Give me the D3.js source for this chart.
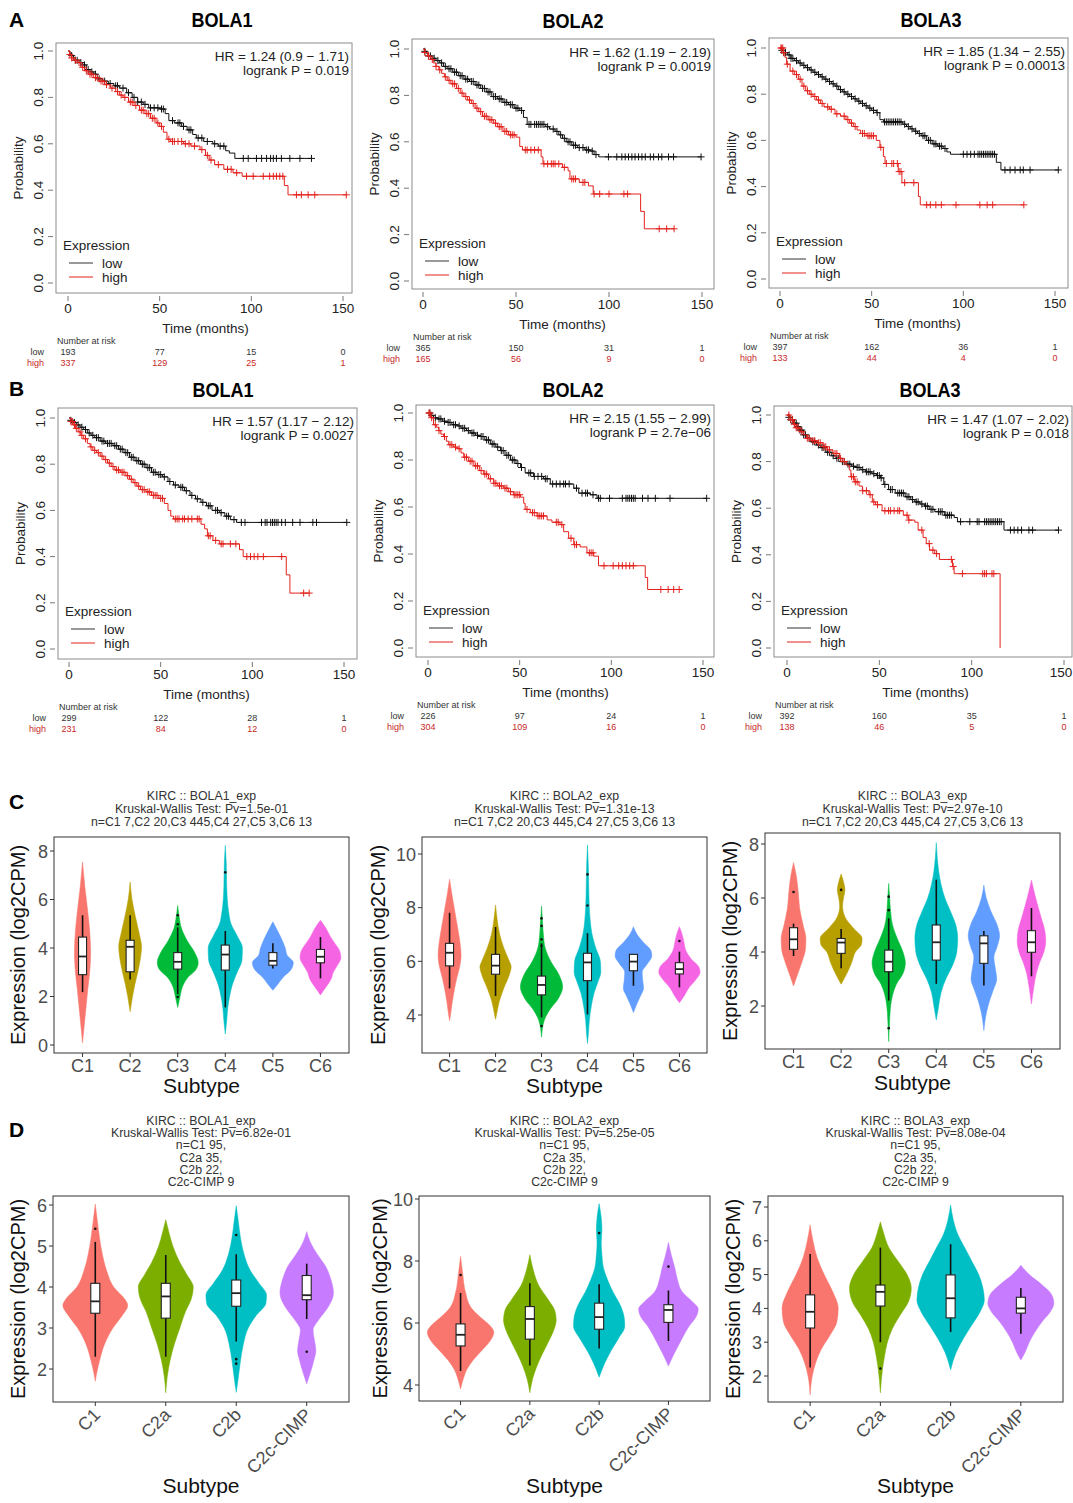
<!DOCTYPE html>
<html>
<head>
<meta charset="utf-8">
<script src="https://cdn.jsdelivr.net/npm/d3@7"></script>
<style>
  body { margin: 0; background: #fff; }
  text { font-family: "Liberation Sans", Arial, sans-serif; }
</style>
</head>
<body>
<svg id="fig" width="1073" height="1503"></svg>
<script>
// ---------- Kaplan-Meier data: [time, survival] steps, censor times ----------
const kmTimeTicks = [0, 50, 100, 150];
const kmProbTicks = [0, 0.2, 0.4, 0.6, 0.8, 1.0];
const riskTimes = [0, 50, 100, 150];

const kmA1Low = [[0,1],[1,0.99],[2,0.98],[3,0.97],[4,0.96],[6,0.95],[8,0.94],[10,0.92],[12,0.91],[14,0.9],[16,0.88],[19,0.87],[22,0.86],[25,0.85],[28,0.84],[32,0.82],[35,0.8],[38,0.78],[41,0.77],[44,0.755],[50,0.75],[53,0.73],[55,0.7],[58,0.69],[62,0.675],[65,0.66],[68,0.64],[70,0.625],[74,0.61],[79,0.6],[82,0.59],[86,0.57],[88,0.56],[91,0.537]];
const kmA1LowCens = [2,4,5,7,9,11,13,15,17,20,23,26,27,30,33,36,38,40,42,45,47,49,51,52,57,60,61,63,66,67,71,73,76,80,83,85,95.6,98.3,102.8,105.6,108.3,110.5,112,113.7,116.4,121,126.5,132.8];
const kmA1High = [[0,1],[1,0.985],[2,0.97],[3,0.96],[5,0.95],[7,0.93],[9,0.915],[11,0.9],[14,0.885],[17,0.87],[20,0.855],[23,0.84],[26,0.825],[28,0.81],[30,0.8],[33,0.78],[36,0.765],[39,0.745],[42,0.73],[45,0.71],[48,0.69],[50,0.675],[52,0.65],[54,0.62],[56,0.61],[63,0.6],[67,0.59],[72,0.575],[75,0.55],[77,0.53],[80,0.51],[85,0.49],[90,0.475],[95,0.46],[118,0.42],[120,0.38]];
const kmA1HighCens = [1,2,4,6,8,10,12,13,15,16,18,19,21,24,27,29,31,34,35,37,40,41,43,44,46,47,49,51,55,57,58,60,62,64,66,69,73,76,78,82,87,89,92,97.4,101,106.5,110,112,113.7,115.5,117.2,124.6,127.3,131,134.6,151.8];

const kmA2Low = [[0,1],[1,0.99],[2,0.98],[3,0.97],[5,0.96],[7,0.95],[9,0.94],[11,0.925],[13,0.915],[16,0.9],[19,0.885],[22,0.87],[25,0.86],[28,0.845],[31,0.83],[34,0.815],[37,0.795],[40,0.785],[43,0.77],[46,0.76],[49,0.745],[52,0.735],[54,0.705],[56,0.675],[66,0.665],[68,0.655],[71,0.645],[73,0.63],[75,0.615],[77,0.6],[80,0.585],[83,0.575],[87,0.565],[90,0.56],[92,0.545],[94.5,0.535]];
const kmA2LowCens = [1,3,4,6,8,10,12,14,15,17,18,20,21,23,24,26,27,29,30,32,33,35,36,38,39,41,42,44,45,47,48,50,51,53,57,58,60,61,62,63,64,65,67,70,72,74,76,78,79,81,82,84,86,88,89,91,93,99.7,104.2,106.9,108.7,110.5,112.3,114,115.9,117.7,119.5,122.2,124,126.6,128.4,132,134.7,149.5];
const kmA2High = [[0,1],[1,0.985],[2.5,0.97],[4,0.955],[5.5,0.94],[7,0.925],[8.5,0.91],[10,0.895],[11.5,0.88],[13,0.865],[15,0.85],[18,0.83],[20,0.81],[22,0.795],[24,0.78],[26,0.765],[28,0.745],[30,0.73],[32,0.71],[35,0.695],[38,0.68],[40,0.665],[43,0.645],[46,0.63],[50,0.62],[52,0.58],[53.5,0.565],[63.5,0.535],[64.5,0.505],[75,0.49],[78,0.475],[79,0.44],[84,0.425],[89,0.41],[91.5,0.375],[117,0.3],[119,0.225]];
const kmA2HighCens = [1,3,5,7,9,12,14,16,17,19,21,23,25,27,29,31,33,34,36,37,39,41,42,44,45,47,48,49,55,56,58,60,62,65,67,69,70,71,73,76,80,81,82,86,87,92,95,100,108,110,127,131,135];

const kmA3Low = [[0,1],[1,0.99],[2,0.98],[4,0.97],[6,0.955],[8,0.945],[10,0.935],[12,0.925],[14,0.915],[16,0.905],[18,0.895],[20,0.885],[22,0.875],[24,0.865],[26,0.855],[28,0.845],[30,0.835],[32,0.82],[34,0.81],[36,0.8],[38,0.79],[40,0.78],[42,0.77],[44,0.76],[46,0.75],[48,0.74],[50,0.73],[52.5,0.72],[54.5,0.69],[56.5,0.68],[67,0.67],[69,0.66],[71,0.65],[73,0.64],[75,0.63],[77,0.62],[80,0.6],[83,0.585],[86,0.575],[89,0.565],[91,0.55],[93,0.54],[118,0.505],[120.5,0.472]];
const kmA3LowCens = [1,2,3,5,6,7,9,11,13,15,17,19,21,23,25,27,29,31,33,35,37,39,41,43,45,47,49,51,53,57,58,59,60,61,62,63,64,65,66,68,70,72,74,76,78,79,81,82,84,85,87,88,90,100,102,104,106,108,109,110,111,112,113,114,115,116,117,122.7,125.5,128.2,131,132.7,136.4,151.8];
const kmA3High = [[0,1],[1.8,0.98],[2.7,0.96],[3.6,0.93],[5.5,0.9],[8,0.885],[10,0.865],[12,0.835],[14,0.815],[16,0.8],[18,0.79],[20,0.775],[22,0.76],[24,0.745],[27,0.735],[30,0.715],[33,0.705],[36,0.69],[38,0.675],[40,0.66],[42,0.645],[44,0.63],[47,0.62],[52.5,0.6],[54.5,0.57],[56.4,0.53],[57.3,0.5],[64.5,0.465],[66.5,0.417],[75.5,0.357],[76.5,0.321]];
const kmA3HighCens = [0.5,1,1.5,2,4,7,9,11,13,15,17,19,21,23,26,28,31,35,37,39,41,45,46,48,49,50,51,55,58,61,62,64,65,66,68,73,80,82,85,88,96,109,113,116,133];

const kmB1Low = [[0,1],[1,0.99],[2.2,0.98],[4,0.97],[6,0.96],[8,0.95],[10,0.935],[12,0.925],[14,0.915],[17,0.9],[20,0.89],[24,0.88],[27,0.865],[30,0.85],[33,0.83],[36,0.815],[39,0.8],[42,0.785],[45,0.765],[48,0.755],[51,0.745],[54,0.725],[57,0.71],[60,0.7],[63,0.685],[66,0.665],[69,0.65],[72,0.635],[75,0.62],[78,0.6],[82,0.59],[85,0.575],[88,0.56],[91.4,0.548]];
const kmB1LowCens = [1,3,5,7,9,11,13,15,16,18,19,21,22,23,25,26,28,29,31,32,34,35,37,38,40,41,43,44,46,47,49,50,52,55,58,61,62,64,67,70,73,76,77,80,81,83,86,87,90,94,96,105,107,108,110,111,112,113,114,116,118,122,126,133,135,151.5];
const kmB1High = [[0,1],[1,0.985],[2.2,0.97],[3.5,0.955],[5,0.94],[6.5,0.925],[8,0.91],[10,0.89],[11.5,0.875],[13,0.86],[15,0.85],[17,0.835],[19,0.82],[21,0.805],[23,0.79],[25,0.775],[28,0.765],[31,0.75],[33,0.735],[35,0.72],[37,0.705],[39,0.69],[42,0.68],[45,0.665],[49,0.652],[52,0.63],[54,0.6],[55.5,0.575],[57,0.563],[72,0.54],[74,0.52],[75.5,0.49],[78.5,0.47],[82,0.455],[93,0.43],[95,0.4],[118.5,0.321],[120.5,0.242]];
const kmB1HighCens = [1,2,3,4,6,7,9,12,14,16,18,20,22,24,26,27,29,30,32,34,36,38,40,41,43,44,46,47,48,50,51,58,59,60,62,63,65,67,70,71,76,77,80,83,84,88,91,97,99,101,103,106,116,128,131];

const kmB2Low = [[0,1],[1.5,0.99],[3,0.98],[5,0.975],[8,0.965],[10.5,0.96],[13,0.95],[16,0.945],[18,0.935],[21,0.925],[23,0.915],[26,0.905],[28.5,0.9],[31,0.885],[34,0.868],[37,0.855],[39.5,0.84],[42,0.82],[45,0.8],[48,0.785],[50.5,0.768],[53,0.745],[57.5,0.73],[63,0.72],[66.7,0.698],[79.5,0.68],[82.2,0.659],[88.5,0.652],[92.2,0.637]];
const kmB2LowCens = [1,2,4,6,7,9,11,12,14,15,17,19,20,22,24,25,27,29,30,32,33,35,36,38,40,41,43,44,46,47,49,51,55,56,58,60,62,64,65,68,70,72,74,75,77,81,84,86,87,90,93,94,99,106,108,109,110,111,112,113,117,120,124,132,152];
const kmB2High = [[0,1],[1.3,0.98],[3,0.95],[4.5,0.94],[5.8,0.925],[7,0.91],[8.5,0.9],[10,0.88],[11.3,0.865],[14,0.855],[16,0.848],[18,0.83],[19.5,0.812],[22,0.795],[25,0.775],[28,0.755],[30.4,0.74],[33,0.72],[35.8,0.701],[38,0.69],[41.3,0.68],[44,0.665],[46.7,0.652],[50.4,0.642],[52.2,0.616],[53,0.59],[55.8,0.576],[59.5,0.562],[65,0.545],[67.6,0.535],[72,0.525],[74,0.495],[76.7,0.467],[79.5,0.44],[83,0.43],[86.7,0.405],[90.4,0.391],[93,0.35],[118.5,0.3],[119.8,0.249]];
const kmB2HighCens = [0.5,1,2,4,6,9,12,13,15,17,20,21,23,24,26,27,29,31,32,34,36,37,39,40,42,43,45,47,48,49,50,54,57,58,60,61,62,63,70,71,73,78,80,81,88,89,90,96,101,104,106,108,110,112,127,131,134,137];

const kmB3Low = [[0,1],[1,0.99],[2,0.98],[3.5,0.965],[5.3,0.95],[7,0.935],[9,0.915],[10.7,0.9],[13,0.885],[16,0.871],[18,0.86],[21,0.84],[24,0.825],[26.6,0.814],[29,0.8],[32,0.789],[35,0.78],[37.3,0.775],[40,0.765],[42.6,0.756],[46,0.748],[48.5,0.74],[50.6,0.73],[52.4,0.702],[55,0.68],[58.6,0.665],[64,0.649],[67,0.637],[69.2,0.627],[72,0.618],[74.6,0.609],[77,0.595],[80,0.585],[85.2,0.57],[90.5,0.56],[92.3,0.542],[117.5,0.506]];
const kmB3LowCens = [1,2,3,4,5,6,7,8,9,10,12,14,15,17,19,20,22,23,25,27,28,30,31,33,34,36,38,39,41,43,44,45,47,49,50,51,53,56,57,60,61,62,63,65,66,68,70,71,73,75,76,78,79,82,83,84,86,87,88,89,94,99,103,104,107,108,109,110,111,112,113,114,115,116,121,123,125,127,131,133,147];
const kmB3High = [[0,1],[1.8,0.98],[3.6,0.96],[5,0.945],[7,0.928],[9,0.915],[10.7,0.9],[13,0.89],[16,0.881],[19.5,0.864],[22,0.85],[24.9,0.835],[28.4,0.814],[30,0.8],[32,0.785],[33.7,0.764],[34.6,0.735],[36.4,0.713],[39,0.695],[40.8,0.675],[44.4,0.658],[46.2,0.627],[48,0.615],[51.5,0.589],[63,0.57],[65.7,0.549],[69.2,0.54],[71,0.506],[73.7,0.474],[75.4,0.448],[77.2,0.42],[80,0.405],[82.5,0.38],[89.6,0.35],[90.5,0.319],[115.4,0]];
const kmB3HighCens = [1,2,3,4,5,6,8,11,12,14,15,17,18,20,21,23,26,27,29,31,35,36,37,38,41,43,45,47,49,53,55,56,58,60,61,65,66,73,77,79,81,89,90,95,106,107,108,111,112];

const riskA1Low = [193, 77, 15, 0],  riskA1High = [337, 129, 25, 1];
const riskA2Low = [365, 150, 31, 1], riskA2High = [165, 56, 9, 0];
const riskA3Low = [397, 162, 36, 1], riskA3High = [133, 44, 4, 0];
const riskB1Low = [299, 122, 28, 1], riskB1High = [231, 84, 12, 0];
const riskB2Low = [226, 97, 24, 1],  riskB2High = [304, 109, 16, 0];
const riskB3Low = [392, 160, 35, 1], riskB3High = [138, 46, 5, 0];

const hrA1 = ["HR = 1.24 (0.9 \u2212 1.71)", "logrank P = 0.019"];
const hrA2 = ["HR = 1.62 (1.19 \u2212 2.19)", "logrank P = 0.0019"];
const hrA3 = ["HR = 1.85 (1.34 \u2212 2.55)", "logrank P = 0.00013"];
const hrB1 = ["HR = 1.57 (1.17 \u2212 2.12)", "logrank P = 0.0027"];
const hrB2 = ["HR = 2.15 (1.55 \u2212 2.99)", "logrank P = 2.7e\u221206"];
const hrB3 = ["HR = 1.47 (1.07 \u2212 2.02)", "logrank P = 0.018"];

// ---------- violin data: profile [value, half width (share of step)], box [lo,q1,med,q3,hi] ----------
const subtypesC = ["C1", "C2", "C3", "C4", "C5", "C6"];
const subtypesD = ["C1", "C2a", "C2b", "C2c-CIMP"];
const colorsC = ["#F8766D", "#B79F00", "#00BA38", "#00BFC4", "#619CFF", "#F564E3"];
const colorsD = ["#F8766D", "#7CAE00", "#00BFC4", "#C77CFF"];

const violinsC1 = [
  [[0.08,0],[0.7,0.03],[1.5,0.07],[2.3,0.11],[3.0,0.15],[3.8,0.17],[4.7,0.15],[5.5,0.11],[6.5,0.05],[7.55,0]],
  [[1.37,0],[2.0,0.05],[2.5,0.10],[3.0,0.16],[3.5,0.21],[4.05,0.24],[4.6,0.19],[5.3,0.11],[6.0,0.04],[6.72,0]],
  [[1.55,0],[2.0,0.05],[2.4,0.1],[2.8,0.22],[3.1,0.38],[3.4,0.43],[3.8,0.36],[4.3,0.2],[4.8,0.08],[5.3,0.03],[5.75,0]],
  [[0.45,0],[1.0,0.03],[1.5,0.05],[2.0,0.09],[2.5,0.15],[3.0,0.25],[3.5,0.35],[4.0,0.36],[4.5,0.25],[5.0,0.12],[5.5,0.07],[6.5,0.03],[7.5,0.02],[8.23,0]],
  [[2.26,0],[2.5,0.1],[2.8,0.22],[3.1,0.38],[3.4,0.43],[3.7,0.3],[4.0,0.26],[4.3,0.2],[4.7,0.1],[5.08,0]],
  [[2.06,0],[2.4,0.12],[2.7,0.22],[3.0,0.27],[3.3,0.36],[3.6,0.43],[3.9,0.4],[4.2,0.3],[4.5,0.2],[4.8,0.12],[5.14,0]]
];
const boxC1 = [[2.18,2.9,3.65,4.45,5.35],[2.7,3.02,4.05,4.32,5.35],[2.1,3.13,3.43,3.81,4.85],[1.55,3.09,3.73,4.12,4.7],[3.15,3.29,3.47,3.81,4.2],[2.75,3.39,3.64,3.94,4.45]];
const outC1 = [[],[],[5.35,4.98,1.98],[7.12],[],[]];

const violinsC2 = [
  [[3.79,0],[4.0,0.02],[4.5,0.06],[5.0,0.11],[5.4,0.16],[5.8,0.22],[6.2,0.25],[6.5,0.24],[7.0,0.2],[7.5,0.15],[8.0,0.1],[8.5,0.05],[9.06,0]],
  [[3.84,0],[4.0,0.02],[4.5,0.08],[5.0,0.18],[5.5,0.3],[5.8,0.34],[6.0,0.3],[6.5,0.18],[7.0,0.09],[7.5,0.04],[8.1,0]],
  [[3.17,0],[3.8,0.06],[4.2,0.18],[4.6,0.36],[5.05,0.46],[5.5,0.38],[6.0,0.2],[6.5,0.08],[7.0,0.04],[7.5,0.02],[8.06,0]],
  [[2.94,0],[3.3,0.02],[3.8,0.04],[4.3,0.08],[4.8,0.14],[5.2,0.22],[5.6,0.29],[6.0,0.28],[6.5,0.18],[7.0,0.1],[7.5,0.06],[8.5,0.03],[9.5,0.02],[10.34,0]],
  [[4.09,0],[4.4,0.07],[4.7,0.15],[5.0,0.22],[5.3,0.2],[5.6,0.19],[5.9,0.3],[6.2,0.4],[6.4,0.38],[6.7,0.22],[7.0,0.08],[7.29,0]],
  [[4.46,0],[4.7,0.1],[5.0,0.2],[5.3,0.35],[5.6,0.45],[5.8,0.42],[6.1,0.25],[6.4,0.14],[6.7,0.1],[7.0,0.06],[7.29,0]]
];
const boxC2 = [[4.99,5.83,6.32,6.67,7.81],[4.71,5.52,5.84,6.26,7.28],[3.91,4.75,5.12,5.45,6.67],[4.02,5.28,5.96,6.3,7.05],[5.09,5.65,5.99,6.26,6.26],[5.03,5.53,5.71,5.95,6.36]];
const outC2 = [[],[],[7.6,7.32,6.82,6.58,3.59],[9.24,8.08],[],[6.76]];

const violinsC3 = [
  [[2.74,0],[3.0,0.05],[3.3,0.11],[3.7,0.19],[4.1,0.25],[4.5,0.26],[5.0,0.2],[5.6,0.13],[6.2,0.1],[6.8,0.06],[7.31,0]],
  [[2.81,0],[3.2,0.12],[3.6,0.22],[4.0,0.3],[4.3,0.43],[4.5,0.44],[4.9,0.25],[5.3,0.08],[5.7,0.03],[6.0,0.05],[6.3,0.08],[6.6,0.05],[6.89,0]],
  [[0.68,0],[1.5,0.02],[2.0,0.04],[2.4,0.08],[2.8,0.16],[3.2,0.3],[3.6,0.35],[4.0,0.3],[4.5,0.18],[5.0,0.08],[5.5,0.04],[6.0,0.02],[6.54,0]],
  [[1.48,0],[2.0,0.05],[2.5,0.1],[3.0,0.2],[3.5,0.34],[4.0,0.43],[4.5,0.45],[5.0,0.41],[5.5,0.3],[6.0,0.18],[6.5,0.1],[7.0,0.05],[7.5,0.02],[8.05,0]],
  [[1.09,0],[1.4,0.02],[1.8,0.06],[2.2,0.12],[2.6,0.2],[3.0,0.27],[3.4,0.24],[3.8,0.21],[4.2,0.28],[4.6,0.33],[5.0,0.28],[5.5,0.15],[6.0,0.05],[6.48,0]],
  [[2.07,0],[2.7,0.05],[3.2,0.1],[3.6,0.17],[4.0,0.26],[4.4,0.3],[4.8,0.28],[5.3,0.2],[5.8,0.12],[6.2,0.06],[6.67,0]]
];
const boxC3 = [[3.85,4.1,4.47,4.9,5.05],[3.4,3.95,4.35,4.5,4.85],[2.2,3.27,3.64,4.07,5.25],[2.82,3.7,4.36,5.0,6.68],[2.76,3.58,4.32,4.6,4.78],[3.1,3.99,4.36,4.79,5.63]];
const outC3 = [[6.22],[6.3],[6.05,5.55,1.18],[],[],[]];

const violinsD1 = [
  [[1.7,0],[1.9,0.02],[2.2,0.06],[2.6,0.13],[3.0,0.25],[3.3,0.38],[3.55,0.46],[3.7,0.42],[4.0,0.26],[4.4,0.16],[4.8,0.1],[5.2,0.06],[5.6,0.03],[6.02,0]],
  [[1.42,0],[1.8,0.02],[2.2,0.06],[2.6,0.12],[3.0,0.2],[3.4,0.28],[3.7,0.36],[4.0,0.39],[4.3,0.3],[4.6,0.2],[5.0,0.1],[5.3,0.05],[5.64,0]],
  [[1.43,0],[1.8,0.03],[2.2,0.06],[2.6,0.1],[3.0,0.17],[3.3,0.28],[3.6,0.42],[3.8,0.43],[4.1,0.32],[4.4,0.2],[4.8,0.11],[5.2,0.06],[5.6,0.03],[5.98,0]],
  [[1.64,0],[1.9,0.05],[2.2,0.1],[2.45,0.13],[2.7,0.11],[2.95,0.09],[3.2,0.17],[3.5,0.3],[3.85,0.38],[4.2,0.34],[4.5,0.27],[4.8,0.15],[5.1,0.05],[5.35,0]]
];
const boxD1 = [[2.3,3.36,3.65,4.09,5.1],[2.3,3.24,3.77,4.09,4.78],[2.67,3.53,3.85,4.17,4.8],[3.22,3.69,3.8,4.28,4.57]];
const outD1 = [[5.42],[],[5.27,2.24,2.13],[2.42]];

const violinsD2 = [
  [[3.87,0],[4.2,0.04],[4.5,0.09],[4.8,0.18],[5.1,0.3],[5.4,0.42],[5.7,0.48],[5.9,0.43],[6.2,0.28],[6.5,0.15],[7.0,0.07],[7.6,0.03],[8.15,0]],
  [[3.75,0],[4.2,0.04],[4.6,0.1],[5.0,0.18],[5.4,0.27],[5.8,0.35],[6.1,0.38],[6.4,0.36],[6.8,0.25],[7.2,0.13],[7.7,0.05],[8.2,0]],
  [[4.25,0],[4.7,0.08],[5.1,0.17],[5.5,0.28],[5.9,0.37],[6.2,0.36],[6.6,0.3],[7.0,0.2],[7.4,0.12],[7.8,0.06],[8.2,0.04],[8.6,0.03],[9.0,0.04],[9.4,0.03],[9.85,0]],
  [[4.61,0],[5.0,0.08],[5.3,0.15],[5.6,0.22],[5.9,0.3],[6.2,0.4],[6.45,0.43],[6.7,0.34],[7.0,0.2],[7.4,0.13],[7.8,0.09],[8.2,0.04],[8.6,0]]
];
const boxD2 = [[4.45,5.26,5.62,5.97,6.97],[4.63,5.48,6.13,6.53,7.28],[5.18,5.8,6.19,6.64,7.25],[5.42,6.02,6.42,6.59,7.05]];
const outD2 = [[7.55],[],[8.9],[7.82]];

const violinsD3 = [
  [[1.44,0],[2.0,0.03],[2.4,0.08],[2.8,0.16],[3.2,0.28],[3.6,0.38],[4.0,0.4],[4.5,0.32],[5.0,0.2],[5.5,0.1],[6.0,0.04],[6.47,0]],
  [[1.5,0],[2.2,0.03],[2.6,0.06],[3.0,0.1],[3.4,0.17],[3.8,0.28],[4.2,0.4],[4.6,0.44],[5.0,0.38],[5.4,0.25],[5.8,0.12],[6.2,0.05],[6.56,0]],
  [[2.18,0],[2.7,0.08],[3.1,0.18],[3.5,0.3],[3.9,0.42],[4.25,0.48],[4.6,0.46],[5.0,0.4],[5.4,0.3],[5.8,0.2],[6.2,0.1],[6.6,0.04],[7.06,0]],
  [[2.47,0],[2.7,0.06],[3.0,0.12],[3.3,0.2],[3.6,0.3],[3.9,0.42],[4.15,0.47],[4.4,0.44],[4.7,0.3],[5.0,0.12],[5.28,0]]
];
const boxD3 = [[2.25,3.42,3.9,4.4,5.61],[3.0,4.07,4.49,4.69,5.8],[3.3,3.72,4.3,4.99,5.9],[3.25,3.86,4.0,4.33,4.6]];
const outD3 = [[],[2.22],[],[]];

const titleC1 = ["KIRC :: BOLA1_exp", "Kruskal-Wallis Test: Pv=1.5e-01", "n=C1 7,C2 20,C3 445,C4 27,C5 3,C6 13"];
const titleC2 = ["KIRC :: BOLA2_exp", "Kruskal-Wallis Test: Pv=1.31e-13", "n=C1 7,C2 20,C3 445,C4 27,C5 3,C6 13"];
const titleC3 = ["KIRC :: BOLA3_exp", "Kruskal-Wallis Test: Pv=2.97e-10", "n=C1 7,C2 20,C3 445,C4 27,C5 3,C6 13"];
const titleD1 = ["KIRC :: BOLA1_exp", "Kruskal-Wallis Test: Pv=6.82e-01", "n=C1 95,", "C2a 35,", "C2b 22,", "C2c-CIMP 9"];
const titleD2 = ["KIRC :: BOLA2_exp", "Kruskal-Wallis Test: Pv=5.25e-05", "n=C1 95,", "C2a 35,", "C2b 22,", "C2c-CIMP 9"];
const titleD3 = ["KIRC :: BOLA3_exp", "Kruskal-Wallis Test: Pv=8.08e-04", "n=C1 95,", "C2a 35,", "C2b 22,", "C2c-CIMP 9"];

// ---------- drawing ----------
const svg = d3.select("#fig");
const RED = "#e3221d";
const WIDTH = 1073;

function panelLetter(label, x, y) {
    svg.append("text").attr("x", x).attr("y", y)
        .attr("font-size", 21).attr("font-weight", "bold").text(label);
}

function survivalAt(steps, t) {
    var s = 1;
    for (var i = 0; i < steps.length; i++) {
        if (steps[i][0] <= t) s = steps[i][1];
    }
    return s;
}

function drawKM(cfg) {
    var left = cfg.box[0], top = cfg.box[1], right = cfg.box[2], bottom = cfg.box[3];
    var x = d3.scaleLinear().domain([0, 150]).range([cfg.x0, cfg.x150]);
    var y = d3.scaleLinear().domain([0, 1]).range([cfg.yZero, cfg.yOne]);
    var g = svg.append("g");

    g.append("text")
        .attr("transform", "translate(" + cfg.titleX + "," + cfg.titleY + ") scale(0.86,1)")
        .attr("text-anchor", "middle").attr("font-size", 21).attr("font-weight", "bold")
        .text(cfg.title);

    g.append("rect").attr("x", left).attr("y", top)
        .attr("width", right - left).attr("height", bottom - top)
        .attr("fill", "none").attr("stroke", "#8c8c8c").attr("stroke-width", 1);

    // x axis
    kmTimeTicks.forEach(function (t) {
        g.append("line").attr("x1", x(t)).attr("x2", x(t))
            .attr("y1", bottom + 3).attr("y2", bottom + 8).attr("stroke", "#777");
        // keep the last label inside the page
        var lx = Math.min(x(t), WIDTH - 12);
        g.append("text").attr("x", lx).attr("y", bottom + 20)
            .attr("text-anchor", "middle").attr("font-size", 13.5).attr("fill", "#222").text(t);
    });
    g.append("text").attr("x", x(75)).attr("y", bottom + 40)
        .attr("text-anchor", "middle").attr("font-size", 13.5).attr("fill", "#222").text("Time (months)");

    // y axis
    kmProbTicks.forEach(function (p) {
        g.append("line").attr("x1", left - 3).attr("x2", left - 8)
            .attr("y1", y(p)).attr("y2", y(p)).attr("stroke", "#777");
        g.append("text")
            .attr("transform", "translate(" + (left - 13) + "," + y(p) + ") rotate(-90)")
            .attr("text-anchor", "middle").attr("font-size", 13.5).attr("fill", "#222")
            .text(p.toFixed(1));
    });
    g.append("text")
        .attr("transform", "translate(" + (left - 33) + "," + ((top + bottom) / 2) + ") rotate(-90)")
        .attr("text-anchor", "middle").attr("font-size", 13.5).attr("fill", "#222").text("Probability");

    // curves
    var line = d3.line().x(function (d) { return x(d[0]); }).y(function (d) { return y(d[1]); })
        .curve(d3.curveStepAfter);
    [[cfg.low, cfg.lowCens, "#111"], [cfg.high, cfg.highCens, RED]].forEach(function (c) {
        var steps = c[0].slice();
        var last = steps[steps.length - 1];
        var tEnd = d3.max(c[1]);
        if (tEnd > last[0]) steps.push([tEnd, last[1]]);
        g.append("path").attr("d", line(steps)).attr("fill", "none")
            .attr("stroke", c[2]).attr("stroke-width", 1);
        c[1].forEach(function (t) {
            var cx = x(t), cy = y(survivalAt(c[0], t));
            g.append("path")
                .attr("d", "M" + (cx - 3.5) + "," + cy + "H" + (cx + 3.5) + "M" + cx + "," + (cy - 3.5) + "V" + (cy + 3.5))
                .attr("stroke", c[2]).attr("stroke-width", 1);
        });
    });

    // HR
    cfg.hr.forEach(function (s, i) {
        g.append("text").attr("x", right - 3).attr("y", top + 18 + i * 14)
            .attr("text-anchor", "end").attr("font-size", 13.5).attr("fill", "#222").text(s);
    });

    // legend
    var ly = cfg.yZero;
    g.append("text").attr("x", left + 7).attr("y", ly - 33).attr("font-size", 13.5).attr("fill", "#222").text("Expression");
    [["low", "#333", ly - 20], ["high", RED, ly - 6]].forEach(function (l) {
        g.append("line").attr("x1", left + 13).attr("x2", left + 37).attr("y1", l[2]).attr("y2", l[2])
            .attr("stroke", l[1]).attr("stroke-width", 1);
        g.append("text").attr("x", left + 46).attr("y", l[2] + 5).attr("font-size", 13.5).attr("fill", "#222").text(l[0]);
    });

    // number at risk
    g.append("text").attr("x", left + 1).attr("y", bottom + 51).attr("font-size", 9).attr("fill", "#333").text("Number at risk");
    [["low", cfg.riskLow, "#333", bottom + 62], ["high", cfg.riskHigh, "#c8281f", bottom + 73]].forEach(function (r) {
        g.append("text").attr("x", left - 12).attr("y", r[3]).attr("text-anchor", "end")
            .attr("font-size", 9).attr("fill", r[2]).text(r[0]);
        riskTimes.forEach(function (t, i) {
            g.append("text").attr("x", x(t)).attr("y", r[3]).attr("text-anchor", "middle")
                .attr("font-size", 9).attr("fill", r[2]).text(r[1][i]);
        });
    });
}

function drawViolins(cfg) {
    var left = cfg.box[0], top = cfg.box[1], right = cfg.box[2], bottom = cfg.box[3];
    var x = d3.scalePoint().domain(cfg.cats).range([left, right]).padding(0.6);
    var step = x.step();
    var y = d3.scaleLinear().domain([cfg.vA, cfg.vB]).range([cfg.pA, cfg.pB]);
    var g = svg.append("g");
    var cxMid = (left + right) / 2;

    cfg.title.forEach(function (s, i) {
        g.append("text").attr("x", cxMid).attr("y", cfg.titleY + i * cfg.titleGap)
            .attr("text-anchor", "middle").attr("font-size", 12.3).attr("fill", "#333").text(s);
    });

    cfg.cats.forEach(function (cat, i) {
        var cx = x(cat);
        var area = d3.area()
            .y(function (d) { return y(d[0]); })
            .x0(function (d) { return cx - d[1] * step; })
            .x1(function (d) { return cx + d[1] * step; })
            .curve(d3.curveMonotoneY);
        g.append("path").attr("d", area(cfg.violins[i])).attr("fill", cfg.colors[i])
            .attr("stroke", cfg.colors[i]).attr("stroke-width", 0.5);

        var b = cfg.boxes[i], bw = cfg.boxW;
        g.append("line").attr("x1", cx).attr("x2", cx).attr("y1", y(b[4])).attr("y2", y(b[0]))
            .attr("stroke", "#111").attr("stroke-width", 1.6);
        g.append("rect").attr("x", cx - bw).attr("y", y(b[3]))
            .attr("width", 2 * bw).attr("height", y(b[1]) - y(b[3]))
            .attr("fill", "#fff").attr("stroke", "#222").attr("stroke-width", 1.1);
        g.append("line").attr("x1", cx - bw).attr("x2", cx + bw).attr("y1", y(b[2])).attr("y2", y(b[2]))
            .attr("stroke", "#222").attr("stroke-width", 1.8);
        cfg.outliers[i].forEach(function (v) {
            g.append("circle").attr("cx", cx).attr("cy", y(v)).attr("r", 1.3).attr("fill", "#111");
        });

        // x tick + label
        g.append("line").attr("x1", cx).attr("x2", cx).attr("y1", bottom).attr("y2", bottom + 4)
            .attr("stroke", "#333");
        if (cfg.rotate) {
            g.append("text")
                .attr("transform", "translate(" + (cx + 6) + "," + (bottom + 14) + ") rotate(-45)")
                .attr("text-anchor", "end").attr("font-size", 18).attr("fill", "#4d4d4d").text(cat);
        } else {
            g.append("text").attr("x", cx).attr("y", bottom + 19).attr("text-anchor", "middle")
                .attr("font-size", 18).attr("fill", "#4d4d4d").text(cat);
        }
    });

    g.append("rect").attr("x", left).attr("y", top)
        .attr("width", right - left).attr("height", bottom - top)
        .attr("fill", "none").attr("stroke", "#333").attr("stroke-width", 1);

    cfg.ticks.forEach(function (v) {
        g.append("line").attr("x1", left - 4).attr("x2", left).attr("y1", y(v)).attr("y2", y(v))
            .attr("stroke", "#333");
        g.append("text").attr("x", left - 6).attr("y", y(v) + 6.5).attr("text-anchor", "end")
            .attr("font-size", 18).attr("fill", "#4d4d4d").text(v);
    });

    g.append("text")
        .attr("transform", "translate(" + cfg.ylabX + "," + ((top + bottom) / 2) + ") rotate(-90)")
        .attr("text-anchor", "middle").attr("font-size", 20).attr("fill", "#111").text("Expression (log2CPM)");
    g.append("text").attr("x", cxMid).attr("y", cfg.xlabY).attr("text-anchor", "middle")
        .attr("font-size", 21).attr("fill", "#111").text("Subtype");
}

panelLetter("A", 9, 27);
panelLetter("B", 9, 396);
panelLetter("C", 9, 809);
panelLetter("D", 9, 1137);

drawKM({box: [56, 43, 352, 293], x0: 68, x150: 343, yOne: 51, yZero: 283, title: "BOLA1", titleX: 222, titleY: 27,
    hr: hrA1, low: kmA1Low, lowCens: kmA1LowCens, high: kmA1High, highCens: kmA1HighCens, riskLow: riskA1Low, riskHigh: riskA1High});
drawKM({box: [412, 39, 714, 289], x0: 423, x150: 702, yOne: 49, yZero: 281, title: "BOLA2", titleX: 573, titleY: 28,
    hr: hrA2, low: kmA2Low, lowCens: kmA2LowCens, high: kmA2High, highCens: kmA2HighCens, riskLow: riskA2Low, riskHigh: riskA2High});
drawKM({box: [769, 38, 1068, 288], x0: 780, x150: 1055, yOne: 48, yZero: 279, title: "BOLA3", titleX: 931, titleY: 27,
    hr: hrA3, low: kmA3Low, lowCens: kmA3LowCens, high: kmA3High, highCens: kmA3HighCens, riskLow: riskA3Low, riskHigh: riskA3High});
drawKM({box: [58, 408, 357, 659], x0: 69, x150: 344, yOne: 418, yZero: 649, title: "BOLA1", titleX: 223, titleY: 397,
    hr: hrB1, low: kmB1Low, lowCens: kmB1LowCens, high: kmB1High, highCens: kmB1HighCens, riskLow: riskB1Low, riskHigh: riskB1High});
drawKM({box: [416, 405, 714, 657], x0: 428, x150: 703, yOne: 413, yZero: 648, title: "BOLA2", titleX: 573, titleY: 397,
    hr: hrB2, low: kmB2Low, lowCens: kmB2LowCens, high: kmB2High, highCens: kmB2HighCens, riskLow: riskB2Low, riskHigh: riskB2High});
drawKM({box: [774, 406, 1072, 657], x0: 787, x150: 1064, yOne: 415, yZero: 648, title: "BOLA3", titleX: 930, titleY: 397,
    hr: hrB3, low: kmB3Low, lowCens: kmB3LowCens, high: kmB3High, highCens: kmB3HighCens, riskLow: riskB3Low, riskHigh: riskB3High});

drawViolins({box: [54, 837, 349, 1053], vA: 0, pA: 1045, vB: 8, pB: 851, ticks: [0, 2, 4, 6, 8], cats: subtypesC, colors: colorsC,
    violins: violinsC1, boxes: boxC1, outliers: outC1, title: titleC1, titleY: 800, titleGap: 13, boxW: 4, ylabX: 25, xlabY: 1093, rotate: false});
drawViolins({box: [422, 837, 707, 1053], vA: 4, pA: 1015, vB: 10, pB: 854, ticks: [4, 6, 8, 10], cats: subtypesC, colors: colorsC,
    violins: violinsC2, boxes: boxC2, outliers: outC2, title: titleC2, titleY: 800, titleGap: 13, boxW: 4, ylabX: 385, xlabY: 1093, rotate: false});
drawViolins({box: [765, 833, 1060, 1049], vA: 2, pA: 1006, vB: 8, pB: 844, ticks: [2, 4, 6, 8], cats: subtypesC, colors: colorsC,
    violins: violinsC3, boxes: boxC3, outliers: outC3, title: titleC3, titleY: 800, titleGap: 13, boxW: 4, ylabX: 737, xlabY: 1090, rotate: false});
drawViolins({box: [53, 1196, 349, 1402], vA: 2, pA: 1369, vB: 6, pB: 1205, ticks: [2, 3, 4, 5, 6], cats: subtypesD, colors: colorsD,
    violins: violinsD1, boxes: boxD1, outliers: outD1, title: titleD1, titleY: 1125, titleGap: 12.2, boxW: 4.5, ylabX: 25, xlabY: 1493, rotate: true});
drawViolins({box: [419, 1196, 710, 1401], vA: 4, pA: 1385, vB: 10, pB: 1199, ticks: [4, 6, 8, 10], cats: subtypesD, colors: colorsD,
    violins: violinsD2, boxes: boxD2, outliers: outD2, title: titleD2, titleY: 1125, titleGap: 12.2, boxW: 4.5, ylabX: 387, xlabY: 1493, rotate: true});
drawViolins({box: [768, 1196, 1063, 1402], vA: 2, pA: 1376, vB: 7, pB: 1207, ticks: [2, 3, 4, 5, 6, 7], cats: subtypesD, colors: colorsD,
    violins: violinsD3, boxes: boxD3, outliers: outD3, title: titleD3, titleY: 1125, titleGap: 12.2, boxW: 4.5, ylabX: 740, xlabY: 1493, rotate: true});
</script>
</body>
</html>
